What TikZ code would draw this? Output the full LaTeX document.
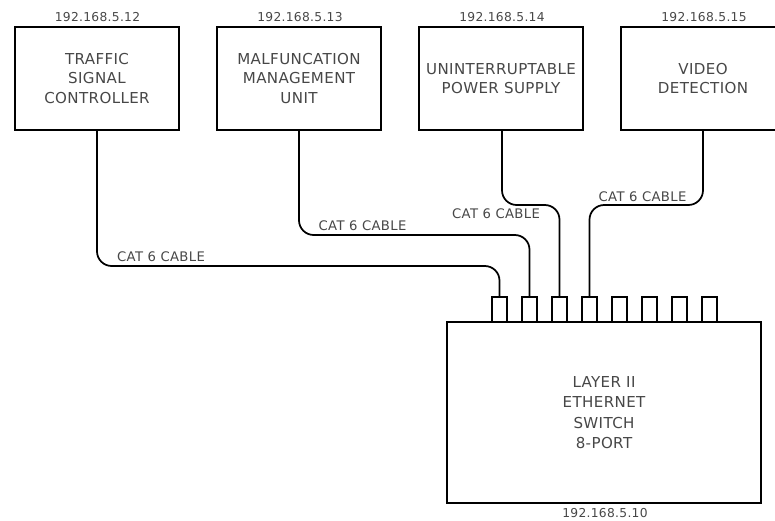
\documentclass[tikz,border=0pt]{standalone}
\usepackage{fontspec}
\setmainfont[LetterSpace=2.5]{DejaVu Sans}
\begin{document}
\begin{tikzpicture}[x=0.75pt,y=-0.75pt,
  txt/.style={text=black!72},
  device/.style={draw, line width=1.3pt, minimum width=123pt, minimum height=77.25pt, inner sep=0pt, align=center, font=\fontsize{11.3}{14.6}\selectfont, txt},
  ip/.style={font=\fontsize{9.2}{11}\selectfont, txt},
  cable/.style={font=\fontsize{9.9}{11}\selectfont, txt},
  port/.style={draw, line width=1.1pt, minimum width=11.25pt, minimum height=18.75pt, inner sep=0pt, fill=white},
  wire/.style={line width=1.3pt, rounded corners=11pt}]
\useasboundingbox (0,0) rectangle (775,521);
\clip (0,0) rectangle (775,521);
% devices
\node[device] (b1) at (97,78.5) {TRAFFIC\\SIGNAL\\CONTROLLER};
\node[device] (b2) at (299,78.5) {MALFUNCATION\\MANAGEMENT\\UNIT};
\node[device] (b3) at (501,78.5) {UNINTERRUPTABLE\\POWER SUPPLY};
\node[device] (b4) at (703,78.5) {VIDEO\\DETECTION};
% IP labels
\node[ip] (ip1) at (97.5,17) {192.168.5.12};
\node[ip] (ip2) at (300,17) {192.168.5.13};
\node[ip] (ip3) at (502,17) {192.168.5.14};
\node[ip] (ip4) at (704,17) {192.168.5.15};
% switch
\node[draw, line width=1.3pt, minimum width=235.5pt, minimum height=135.75pt, inner sep=0pt, align=center, font=\fontsize{11.3}{15.2}\selectfont, txt] (sw) at (604,412.5) {LAYER II\\ETHERNET\\SWITCH\\8-PORT};
\node[ip] (ipsw) at (605,513) {192.168.5.10};
% ports
\foreach \i in {1,...,8} {
  \node[port] (p\i) at ({499.5+30*(\i-1)},309.5) {};
}
% wire levels
\coordinate (h1) at (0,266);
\coordinate (h2) at (0,235);
\coordinate (h3) at (0,205);
\coordinate (h4) at (0,205);
\draw[wire] (b1.south) |- (h1 -| p1.north) -- (p1.north);
\draw[wire] (b2.south) |- (h2 -| p2.north) -- (p2.north);
\draw[wire] ([xshift=0.75pt]b3.south) |- (h3 -| p3.north) -- (p3.north);
\draw[wire] (b4.south) |- (h4 -| p4.north) -- (p4.north);
% cable labels
\node[cable] (c1) at (161,257) {CAT 6 CABLE};
\node[cable] (c2) at (362.5,226) {CAT 6 CABLE};
\node[cable] (c3) at (496,214) {CAT 6 CABLE};
\node[cable] (c4) at (642.5,197) {CAT 6 CABLE};
\end{tikzpicture}
\end{document}
